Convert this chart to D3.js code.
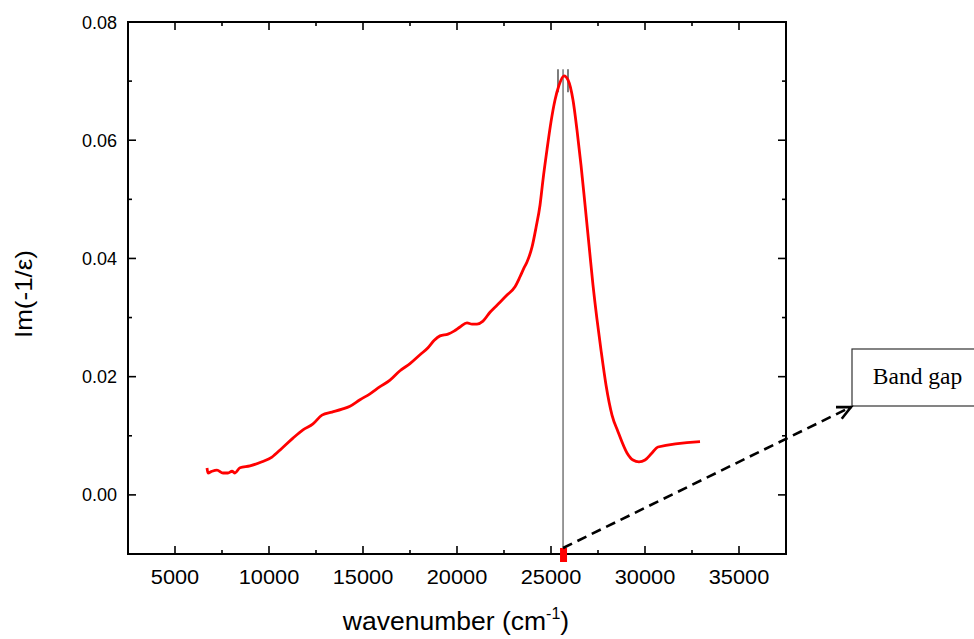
<!DOCTYPE html>
<html>
<head>
<meta charset="utf-8">
<script src="https://cdn.jsdelivr.net/npm/d3@7"></script>
<style>
  html, body { margin: 0; padding: 0; background: #fff; }
  svg { display: block; }
</style>
</head>
<body>
<svg id="chart" width="974" height="639"></svg>
<script>
// Energy loss function spectrum: Im(-1/ε) versus wavenumber
const wavenumber = [6702, 6755, 6968, 7234, 7553, 7819, 8032, 8191, 8457, 8989, 9627, 10159, 10691,
  11276, 11808, 12340, 12819, 13351, 13883, 14308, 14840, 15372, 15904, 16436, 16968, 17500, 18032,
  18458, 18777, 19096, 19521, 19840, 20159, 20532, 20798, 21064, 21383, 21755, 22128, 22660, 23085,
  23351, 23564, 23723, 23989, 24202, 24415, 24574, 24787, 25000, 25213, 25426, 25692, 25904, 26170,
  26383, 26596, 26809, 27021, 27234, 27447, 27660, 27926, 28245, 28564, 29043, 29362, 29681, 30000,
  30372, 30691, 32926];
const lossValues = [0.00455, 0.0037, 0.0040, 0.0042, 0.0037, 0.0037, 0.0040, 0.0037, 0.0046, 0.0049,
  0.0056, 0.0064, 0.0079, 0.0096, 0.0110, 0.0120, 0.0135, 0.0140, 0.0145, 0.0150, 0.0161, 0.0171,
  0.0183, 0.0194, 0.0210, 0.0222, 0.0237, 0.0249, 0.0261, 0.0269, 0.0272, 0.0277, 0.0284, 0.0291,
  0.0289, 0.0289, 0.0294, 0.0309, 0.0321, 0.0338, 0.0352, 0.0369, 0.0384, 0.0394, 0.0419, 0.0452,
  0.0490, 0.0533, 0.0584, 0.0631, 0.0668, 0.0693, 0.0709, 0.0702, 0.0668, 0.0617, 0.0558, 0.0491,
  0.0423, 0.0355, 0.0297, 0.0245, 0.0186, 0.0135, 0.0107, 0.0071, 0.0059, 0.0056, 0.0059,
  0.0071, 0.0081, 0.0090];

const xTicks = [5000, 10000, 15000, 20000, 25000, 30000, 35000];
const yTicks = [0.00, 0.02, 0.04, 0.06, 0.08];
const xMinorTicks = [2500, 7500, 12500, 17500, 22500, 27500, 32500, 37500];
const yMinorTicks = [-0.01, 0.01, 0.03, 0.05, 0.07];

// Peak position (band gap) and the two peak-marker bars around it
const bandGapPosition = 25640;
const peakMarkers = [25372, 25904];
const peakMarkerRange = [0.0681, 0.0720];
const calloutText = "Band gap";

const svg = d3.select("#chart");
const margin = { left: 128, top: 22, right: 974 - 786, bottom: 639 - 554 };
const W = 974, H = 639;

const x = d3.scaleLinear().domain([2500, 37500]).range([margin.left, W - margin.right]);
const y = d3.scaleLinear().domain([-0.01, 0.08]).range([H - margin.bottom, margin.top]);

const x0 = x.range()[0], x1 = x.range()[1];
const y0 = y.range()[0], y1 = y.range()[1];

const axisFont = "Liberation Sans, Arial, sans-serif";

// Tick marks (inward on all four sides)
const tg = svg.append("g").attr("class", "ticks").attr("stroke", "#000").attr("stroke-width", 1.6);
xTicks.forEach(v => {
  tg.append("line").attr("x1", x(v)).attr("x2", x(v)).attr("y1", y0).attr("y2", y0 - 8);
  tg.append("line").attr("x1", x(v)).attr("x2", x(v)).attr("y1", y1).attr("y2", y1 + 8);
});
xMinorTicks.forEach(v => {
  tg.append("line").attr("x1", x(v)).attr("x2", x(v)).attr("y1", y0).attr("y2", y0 - 4);
  tg.append("line").attr("x1", x(v)).attr("x2", x(v)).attr("y1", y1).attr("y2", y1 + 4);
});
yTicks.forEach(v => {
  tg.append("line").attr("x1", x0).attr("x2", x0 + 8).attr("y1", y(v)).attr("y2", y(v));
  tg.append("line").attr("x1", x1).attr("x2", x1 - 8).attr("y1", y(v)).attr("y2", y(v));
});
yMinorTicks.forEach(v => {
  tg.append("line").attr("x1", x0).attr("x2", x0 + 4).attr("y1", y(v)).attr("y2", y(v));
  tg.append("line").attr("x1", x1).attr("x2", x1 - 4).attr("y1", y(v)).attr("y2", y(v));
});

// Tick labels
svg.append("g").selectAll("text").data(xTicks).join("text")
  .attr("x", d => x(d)).attr("y", y0 + 30)
  .attr("text-anchor", "middle")
  .attr("font-family", axisFont).attr("font-size", 19.5)
  .attr("textLength", d => String(d).length * 12.1)
  .attr("lengthAdjust", "spacingAndGlyphs")
  .text(d => d);

svg.append("g").selectAll("text").data(yTicks).join("text")
  .attr("x", x0 - 11).attr("y", d => y(d) + 6.5)
  .attr("text-anchor", "end")
  .attr("font-family", axisFont).attr("font-size", 18)
  .text(d => d3.format(".2f")(d));

// Peak vertical line and markers
svg.append("line")
  .attr("x1", x(bandGapPosition)).attr("x2", x(bandGapPosition))
  .attr("y1", y0).attr("y2", y(peakMarkerRange[1]))
  .attr("stroke", "#333").attr("stroke-width", 1);
svg.append("g").selectAll("line").data(peakMarkers).join("line")
  .attr("x1", d => x(d)).attr("x2", d => x(d))
  .attr("y1", y(peakMarkerRange[0])).attr("y2", y(peakMarkerRange[1]))
  .attr("stroke", "#444").attr("stroke-width", 1.4);

// Spectrum curve
const pts = wavenumber.map((w, i) => [w, lossValues[i]]);
svg.append("path")
  .datum(pts)
  .attr("fill", "none")
  .attr("stroke", "#ff0000")
  .attr("stroke-width", 2.8)
  .attr("stroke-linejoin", "round")
  .attr("d", d3.line().x(d => x(d[0])).y(d => y(d[1])).curve(d3.curveMonotoneX));

// Axis frame
svg.append("rect")
  .attr("x", x0).attr("y", y1)
  .attr("width", x1 - x0).attr("height", y0 - y1)
  .attr("fill", "none").attr("stroke", "#000").attr("stroke-width", 2);

// Band gap marker on the x axis
svg.append("rect")
  .attr("x", x(bandGapPosition) - 3).attr("y", y0 - 6)
  .attr("width", 7).attr("height", 14)
  .attr("fill", "#ff0000");

// Callout box
const boxX = 852, boxY = 349, boxW = 124, boxH = 57;
svg.append("rect")
  .attr("x", boxX).attr("y", boxY).attr("width", boxW).attr("height", boxH)
  .attr("fill", "#fff").attr("stroke", "#333").attr("stroke-width", 1.2);
svg.append("text")
  .attr("x", 917.5).attr("y", 384)
  .attr("text-anchor", "middle")
  .attr("font-family", "Liberation Serif, Times New Roman, serif")
  .attr("font-size", 23.5)
  .text(calloutText);

// Dashed arrow from the band gap marker to the callout
const ax0 = x(bandGapPosition), ay0 = y0 - 6;
const ax1 = boxX - 1, ay1 = boxY + boxH + 1;
svg.append("line")
  .attr("x1", ax0).attr("y1", ay0).attr("x2", ax1).attr("y2", ay1)
  .attr("stroke", "#000").attr("stroke-width", 2.6)
  .attr("stroke-dasharray", "10,6");
const ang = Math.atan2(ay1 - ay0, ax1 - ax0);
const hl = 15, spread = 0.45;
svg.append("path")
  .attr("d", `M${ax1 - hl * Math.cos(ang - spread)},${ay1 - hl * Math.sin(ang - spread)} L${ax1},${ay1} L${ax1 - hl * Math.cos(ang + spread)},${ay1 - hl * Math.sin(ang + spread)}`)
  .attr("fill", "none").attr("stroke", "#000").attr("stroke-width", 2.6);

// Axis titles
svg.append("text")
  .attr("transform", `translate(32, 294) rotate(-90)`)
  .attr("text-anchor", "middle")
  .attr("font-family", axisFont).attr("font-size", 24)
  .attr("textLength", 88)
  .attr("lengthAdjust", "spacingAndGlyphs")
  .text("Im(-1/ε)");

const xt = svg.append("text")
  .attr("x", 456).attr("y", 630)
  .attr("text-anchor", "middle")
  .attr("font-family", axisFont).attr("font-size", 26.5);
xt.append("tspan").text("wavenumber (cm");
xt.append("tspan").attr("font-size", 16).attr("dy", -11).text("-1");
xt.append("tspan").attr("dy", 11).text(")");
</script>
</body>
</html>
